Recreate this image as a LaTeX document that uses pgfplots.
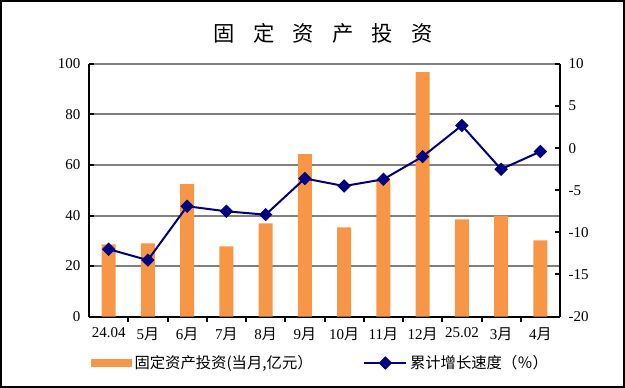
\documentclass[border=0pt]{standalone}
\usepackage{pgfplots}
\pgfplotsset{compat=1.18}
\usepackage{fontspec}
\setmainfont{Liberation Serif}
\newfontfamily\cjk{Noto Sans CJK SC}
\definecolor{barorange}{RGB}{247,150,70}
\definecolor{navyline}{RGB}{0,0,128}
\definecolor{gridgray}{RGB}{128,128,128}
\newcommand\yue{{\cjk 月}}
\begin{document}
\begin{tikzpicture}
\draw[line width=1.8pt] (0.9pt,0.9pt) rectangle (467.85pt,290.1pt);
\node[font=\cjk\fontsize{16}{18}\selectfont] at (242.25pt,266.25pt) {固\hspace{0.85em}定\hspace{0.85em}资\hspace{0.85em}产\hspace{0.85em}投\hspace{0.85em}资};
\begin{axis}[
  at={(66.75pt,53.6pt)}, anchor=south west,
  scale only axis, width=353.25pt, height=189.4pt,
  xmin=-0.5, xmax=11.5, ymin=0, ymax=100,
  ytick={0,20,...,100},
  axis y line*=left, axis x line*=bottom,
  xtick={0,...,11},
  xticklabels={24.04,5\yue,6\yue,7\yue,8\yue,9\yue,10\yue,11\yue,12\yue,25.02,3\yue,4\yue},
  minor xtick={0.5,1.5,...,10.5},
  major x tick style={draw=none},
  tick align=inside,
  major tick length=3.75pt, minor tick length=3.75pt,
  ymajorgrids, grid style={gridgray, line width=1.5pt},
  axis line style={line width=1.5pt, black, -},
  tick style={black, line width=1.5pt},
  tick label style={font=\fontsize{11.25}{13}\selectfont},
  /pgf/number format/assume math mode=true,
  xticklabel style={yshift=-1pt},
  yticklabel style={xshift=-3pt},
  ybar, bar width=10.5pt,
]
\addplot[fill=barorange, draw=none] coordinates {
(0,28.6) (1,29.0) (2,52.4) (3,27.8) (4,36.9) (5,64.3) (6,35.3) (7,54.0) (8,96.8) (9,38.5) (10,40.0) (11,30.2)};
\end{axis}
\begin{axis}[
  at={(66.75pt,53.6pt)}, anchor=south west,
  scale only axis, width=353.25pt, height=189.4pt,
  xmin=-0.5, xmax=11.5, ymin=-20, ymax=10,
  ytick={-20,-15,...,10},
  axis y line*=right, axis x line=none,
  tick align=inside,
  major tick length=3.75pt,
  axis line style={line width=1.5pt, black, -},
  tick style={black, line width=1.5pt},
  tick label style={font=\fontsize{11.25}{13}\selectfont},
  yticklabel style={xshift=3pt},
  /pgf/number format/assume math mode=true,
  legend columns=2,
  legend style={at={(0.4926,-0.184)}, anchor=center, draw=none, fill=none,
    font=\cjk\fontsize{11.5}{13}\selectfont,
    /tikz/every even column/.append style={column sep=36pt}},
]
\addlegendimage{legend image code/.code={\fill[barorange] (0pt,-2.6pt) rectangle (30pt,2.6pt);}}
\addlegendentry{固定资产投资(当月,亿元）}
\addplot[navyline, line width=1.5pt, mark=square*, mark size=2.8pt, mark options={rotate=45, solid, fill=navyline},
  legend image code/.code={\draw[navyline, line width=1.5pt, mark=square*, mark size=2.8pt, mark options={rotate=45, solid, fill=navyline}, mark repeat=2, mark phase=2] plot coordinates {(0pt,0pt) (15.75pt,0pt) (31.5pt,0pt)};}] coordinates {
(0,-12.0) (1,-13.3) (2,-6.9) (3,-7.5) (4,-7.9) (5,-3.6) (6,-4.5) (7,-3.7) (8,-1.0) (9,2.7) (10,-2.5) (11,-0.4)};
\addlegendentry{累计增长速度（％）}
\end{axis}
\end{tikzpicture}
\end{document}
